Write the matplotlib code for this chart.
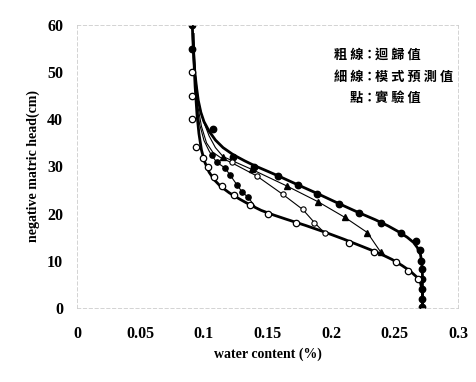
import matplotlib
matplotlib.use("Agg")
import matplotlib.pyplot as plt

# ---- data ----
# thick regression curves
drying_x = [0.0908, 0.0912, 0.0918, 0.0928, 0.094, 0.0955, 0.0975, 0.1, 0.104, 0.109, 0.115, 0.123, 0.132, 0.1396,
            0.15, 0.1585, 0.174, 0.189, 0.2065, 0.222, 0.235, 0.245, 0.253, 0.26, 0.265, 0.268, 0.2705, 0.2715, 0.272, 0.272]
drying_y = [60, 57, 54, 50, 47, 44, 41.5, 39.5, 37.5, 35.6, 34, 32.5, 31.2, 30.2,
            29, 28.0, 26.1, 24.3, 22.1, 20.2, 18.7, 17.4, 16.2, 15.0, 13.9, 12.8, 11.3, 9.5, 7, 0]
wetting_x = [0.0915, 0.092, 0.093, 0.0945, 0.096, 0.098, 0.1005, 0.104, 0.108, 0.113, 0.12, 0.128, 0.136, 0.145,
             0.155, 0.165, 0.18, 0.195, 0.21, 0.225, 0.238, 0.248, 0.256, 0.262, 0.267, 0.2705, 0.272, 0.272]
wetting_y = [58, 53, 47, 41, 37, 33.5, 31, 28.8, 27.2, 25.8, 24.4, 23.1, 21.9, 20.7,
             19.7, 18.8, 17.5, 16.1, 14.6, 13.0, 11.6, 10.3, 9.0, 7.9, 6.7, 5.3, 3.5, 0]

# thin model-prediction curves
modelA_x = [0.0915, 0.093, 0.0955, 0.099, 0.104, 0.109, 0.115, 0.1375, 0.165, 0.19, 0.211, 0.2286, 0.239]
modelA_y = [58, 50, 44, 40, 36.5, 34, 32.1, 29.4, 25.9, 22.5, 19.2, 16.0, 11.9]
modelB_x = [0.0915, 0.093, 0.095, 0.098, 0.102, 0.107, 0.113, 0.1218, 0.1415, 0.162, 0.1777, 0.187, 0.1953]
modelB_y = [58, 49, 43, 38.5, 35, 33, 31.9, 30.8, 28.0, 24.1, 20.9, 18.1, 15.8]
modelC_x = [0.0915, 0.0925, 0.094, 0.0965, 0.1, 0.104, 0.106, 0.110, 0.1165, 0.1205, 0.126, 0.130, 0.1346, 0.14]
modelC_y = [58, 50, 44, 39, 35.5, 33.3, 32.4, 30.9, 29.7, 28.2, 26.1, 24.6, 23.5, 21.6]

# experimental points
dry_pts_x = [0.0908, 0.0903, 0.107, 0.123, 0.1396, 0.1585, 0.174, 0.189, 0.2065, 0.222, 0.239, 0.255, 0.267, 0.270, 0.271, 0.272, 0.272, 0.272, 0.272, 0.272]
dry_pts_y = [60, 55, 37.9, 32.1, 29.8, 28.0, 26.1, 24.2, 22.0, 20.1, 18.1, 16.0, 14.1, 12.2, 10.0, 8.2, 6.1, 4.0, 2.0, 0.3]
wet_pts_x = [0.0903, 0.0903, 0.0903, 0.0937, 0.099, 0.103, 0.108, 0.114, 0.1236, 0.136, 0.1506, 0.1724, 0.2144, 0.2339, 0.251, 0.261, 0.2688]
wet_pts_y = [50, 45, 40, 34.1, 31.9, 29.8, 27.8, 25.9, 24.0, 21.8, 19.9, 18.1, 13.8, 11.9, 9.8, 7.9, 6.1]
tri_pts_x = [0.115, 0.1375, 0.165, 0.19, 0.211, 0.2286, 0.239]
tri_pts_y = [32.1, 29.4, 25.9, 22.5, 19.2, 16.0, 11.9]
openB_pts_x = [0.1218, 0.1415, 0.162, 0.1777, 0.187, 0.1953]
openB_pts_y = [31.0, 28.0, 24.1, 20.9, 18.1, 15.8]
fillC_pts_x = [0.106, 0.110, 0.1165, 0.1205, 0.126, 0.130, 0.1346]
fillC_pts_y = [32.4, 30.9, 29.7, 28.2, 26.1, 24.6, 23.5]

x_ticks = [0, 0.05, 0.1, 0.15, 0.2, 0.25, 0.3]
x_ticklabels = ["0", "0.05", "0.1", "0.15", "0.2", "0.25", "0.3"]
y_ticks = [0, 10, 20, 30, 40, 50, 60]

left_parts = ["粗 線", "細 線", "點"]
right_parts = ["迴 歸 值", "模 式 預 測 值", "實 驗 值"]

# ---- figure ----
fig = plt.figure(figsize=(4.77, 3.82), dpi=100)
ax = fig.add_axes([77/477, 1-308/382, (458-77)/477, (308-25)/382])

ax.plot(modelA_x, modelA_y, color="black", lw=0.8, solid_joinstyle="round")
ax.plot(modelB_x, modelB_y, color="black", lw=0.8, solid_joinstyle="round")
ax.plot(modelC_x, modelC_y, color="black", lw=0.8, solid_joinstyle="round")
ax.plot(drying_x, drying_y, color="black", lw=2.0, solid_joinstyle="round")
ax.plot(wetting_x, wetting_y, color="black", lw=2.0, solid_joinstyle="round")

ax.plot(dry_pts_x, dry_pts_y, "o", color="black", ms=4.6, ls="none")
ax.plot(wet_pts_x, wet_pts_y, "o", mfc="white", mec="black", mew=0.9, ms=4.6, ls="none")
ax.plot(tri_pts_x, tri_pts_y, "^", color="black", ms=4.6, ls="none")
ax.plot(openB_pts_x, openB_pts_y, "o", mfc="white", mec="black", mew=0.8, ms=3.8, ls="none")
ax.plot(fillC_pts_x, fillC_pts_y, "o", color="black", ms=3.8, ls="none")

ax.set_xlim(0, 0.3)
ax.set_ylim(0, 60)
ax.set_xticks(x_ticks)
ax.set_xticklabels(x_ticklabels)
ax.set_yticks(y_ticks)

for lab in ax.get_xticklabels() + ax.get_yticklabels():
    lab.set_fontfamily("Liberation Serif")
    lab.set_fontweight("bold")
    lab.set_fontsize(11.5)
ax.tick_params(axis="x", length=0, pad=13)
ax.tick_params(axis="y", length=0, pad=10)

for s in ax.spines.values():
    s.set_color("#cccccc")
    s.set_linewidth(0.6)
    s.set_linestyle((0, (4, 3)))

ax.set_xlabel("water content (%)", fontfamily="Liberation Serif", fontweight="bold", fontsize=10, labelpad=4)
ax.set_ylabel("negative matric head(cm)", fontfamily="Liberation Serif", fontweight="bold", fontsize=10, labelpad=5)

# annotation (colon aligned)
cjk = ["Noto Sans CJK TC", "DejaVu Sans"]
ys = [55, 77, 98]
for lp, rp, yp in zip(left_parts, right_parts, ys):
    fig.text(363/477, 1-yp/382, lp, ha="right", va="center", family=cjk, weight="bold", fontsize=9.5)
    fig.text(369/477, 1-yp/382, "：", ha="center", va="center", family=cjk, weight="bold", fontsize=9.5)
    fig.text(375/477, 1-yp/382, rp, ha="left", va="center", family=cjk, weight="bold", fontsize=9.5)

fig.savefig("out.png", dpi=100)
